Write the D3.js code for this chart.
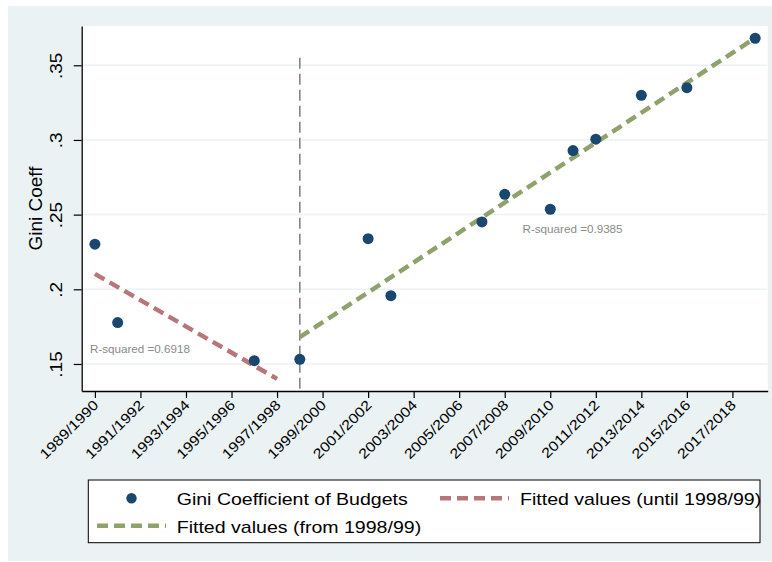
<!DOCTYPE html>
<html>
<head>
<meta charset="utf-8">
<script src="https://cdn.jsdelivr.net/npm/d3@7"></script>
<style>
  html, body { margin: 0; padding: 0; background: #ffffff; }
  svg { display: block; }
  text { font-family: "Liberation Sans", Arial, Helvetica, sans-serif; }
</style>
</head>
<body>
<svg id="chart" width="772" height="562"></svg>
<script>
// ---- data ----
const pointYears = [1989, 1990, 1996, 1998, 2001, 2002, 2006, 2007, 2009, 2010, 2011, 2013, 2015, 2018];
const giniValues = [0.2302, 0.1777, 0.1522, 0.1531, 0.2339, 0.1957, 0.2451, 0.2636, 0.2536, 0.2929, 0.3005, 0.3299, 0.3350, 0.3681];

const fitUntilYears = [1989, 1997];
const fitUntilValues = [0.2103, 0.1400];
const fitFromYears = [1998, 2018];
const fitFromValues = [0.1679, 0.3683];

const breakYear = 1998;
const breakTop = 0.355;

const xTickYears = [1989, 1991, 1993, 1995, 1997, 1999, 2001, 2003, 2005, 2007, 2009, 2011, 2013, 2015, 2017];
const xTickLabels = ["1989/1990", "1991/1992", "1993/1994", "1995/1996", "1997/1998", "1999/2000", "2001/2002", "2003/2004", "2005/2006", "2007/2008", "2009/2010", "2011/2012", "2013/2014", "2015/2016", "2017/2018"];
const yTickValues = [0.15, 0.20, 0.25, 0.30, 0.35];
const yTickLabels = [".15", ".2", ".25", ".3", ".35"];

const rsqLabels = ["R-squared =0.6918", "R-squared =0.9385"];
const rsqYears = [1988.78, 2007.78];
const rsqValues = [0.1576, 0.2375];

const legendLabels = ["Gini Coefficient of Budgets", "Fitted values (until 1998/99)", "Fitted values (from 1998/99)"];

// ---- styles ----
const C_BG = "#eaf2f3", C_MARK = "#1a476f", C_RED = "#b8757a", C_GREEN = "#8fa26c", C_GREY = "#7f7f7f";
const STRETCH = 1.15;

const svg = d3.select("#chart");
const L = 81.7, R = 767.7, T = 26, B = 391;

const x = d3.scaleLinear().domain([1988.42, 2018.55]).range([L, R]);
const y = d3.scaleLinear().domain([0.1319, 0.3763]).range([B, T]);

function stretch(sel, k) {
  sel.each(function () {
    const len = this.getComputedTextLength();
    this.setAttribute("textLength", len * k);
    this.setAttribute("lengthAdjust", "spacingAndGlyphs");
  });
}

// backgrounds
svg.append("rect").attr("x", 8).attr("y", 6).attr("width", 764).attr("height", 555).attr("fill", C_BG);
svg.append("rect").attr("x", L).attr("y", T).attr("width", R - L).attr("height", B - T).attr("fill", "#ffffff");

// gridlines
svg.append("g").selectAll("line").data(yTickValues).join("line")
  .attr("x1", L).attr("x2", R)
  .attr("y1", d => y(d)).attr("y2", d => y(d))
  .attr("stroke", C_BG).attr("stroke-width", 1.5);

// break line
svg.append("line")
  .attr("x1", x(breakYear)).attr("x2", x(breakYear))
  .attr("y1", y(breakTop)).attr("y2", B)
  .attr("stroke", C_GREY).attr("stroke-width", 1.5).attr("stroke-dasharray", "11,5");

// fitted lines
const line = d3.line().x(d => x(d[0])).y(d => y(d[1]));
svg.append("path").datum(fitUntilYears.map((d, i) => [d, fitUntilValues[i]]))
  .attr("d", line).attr("fill", "none").attr("stroke", C_RED)
  .attr("stroke-width", 4.5).attr("stroke-dasharray", "11,6");
svg.append("path").datum(fitFromYears.map((d, i) => [d, fitFromValues[i]]))
  .attr("d", line).attr("fill", "none").attr("stroke", C_GREEN)
  .attr("stroke-width", 4.5).attr("stroke-dasharray", "11,6");

// points
svg.append("g").selectAll("circle").data(pointYears).join("circle")
  .attr("cx", d => x(d)).attr("cy", (d, i) => y(giniValues[i])).attr("r", 5.5)
  .attr("fill", C_MARK);

// R-squared annotations
svg.append("g").selectAll("text").data(rsqLabels).join("text")
  .attr("x", (d, i) => x(rsqYears[i])).attr("y", (d, i) => y(rsqValues[i]))
  .attr("font-size", 10.6).attr("fill", "#8a8a8a").text(d => d)
  .call(stretch, 1.1);

// axes
const yAxis = d3.axisLeft(y).tickValues(yTickValues).tickFormat((d, i) => yTickLabels[i]).tickSize(8).tickSizeOuter(0);
const gy = svg.append("g").attr("transform", `translate(${L},0)`).call(yAxis);
gy.select(".domain").attr("stroke", "#000").attr("stroke-width", 1.3);
gy.selectAll(".tick line").attr("stroke", "#000").attr("stroke-width", 1.2);
gy.selectAll(".tick text")
  .attr("font-size", 16.5).attr("fill", "#000")
  .attr("text-anchor", "middle").attr("x", 0).attr("dy", 0)
  .attr("transform", "translate(-19.5,0) rotate(-90)")
  .call(stretch, STRETCH);

const xAxis = d3.axisBottom(x).tickValues(xTickYears).tickFormat((d, i) => xTickLabels[i]).tickSize(7).tickSizeOuter(0);
const gx = svg.append("g").attr("transform", `translate(0,${B})`).call(xAxis);
gx.select(".domain").attr("stroke", "#000").attr("stroke-width", 1.3);
gx.selectAll(".tick line").attr("stroke", "#000").attr("stroke-width", 1.2);
gx.selectAll(".tick text")
  .attr("font-size", 14).attr("fill", "#000")
  .attr("text-anchor", "end").attr("x", 0).attr("y", 0).attr("dy", 0)
  .attr("transform", "translate(4,15) rotate(-45)")
  .call(stretch, STRETCH);

// axis title
svg.append("text")
  .attr("transform", `translate(42.3,${(T + B) / 2}) rotate(-90)`)
  .attr("text-anchor", "middle").attr("font-size", 19).attr("fill", "#000")
  .text("Gini Coeff");

// legend
const lg = svg.append("g");
lg.append("rect").attr("x", 88.3).attr("y", 480).attr("width", 671.7).attr("height", 62.7)
  .attr("fill", "#fff").attr("stroke", "#000").attr("stroke-width", 1);
lg.append("circle").attr("cx", 131.5).attr("cy", 498.3).attr("r", 5.2).attr("fill", C_MARK);
lg.append("line").attr("x1", 440).attr("x2", 509).attr("y1", 498.3).attr("y2", 498.3)
  .attr("stroke", C_RED).attr("stroke-width", 4.5).attr("stroke-dasharray", "11,6");
lg.append("line").attr("x1", 97).attr("x2", 166).attr("y1", 525.7).attr("y2", 525.7)
  .attr("stroke", C_GREEN).attr("stroke-width", 4.5).attr("stroke-dasharray", "11,6");
const legPos = [[176.7, 505], [520, 505], [176.7, 532.7]];
lg.selectAll("text.leg").data(legendLabels).join("text").attr("class", "leg")
  .attr("x", (d, i) => legPos[i][0]).attr("y", (d, i) => legPos[i][1])
  .attr("font-size", 17).attr("fill", "#000").text(d => d)
  .call(stretch, STRETCH);
</script>
</body>
</html>
